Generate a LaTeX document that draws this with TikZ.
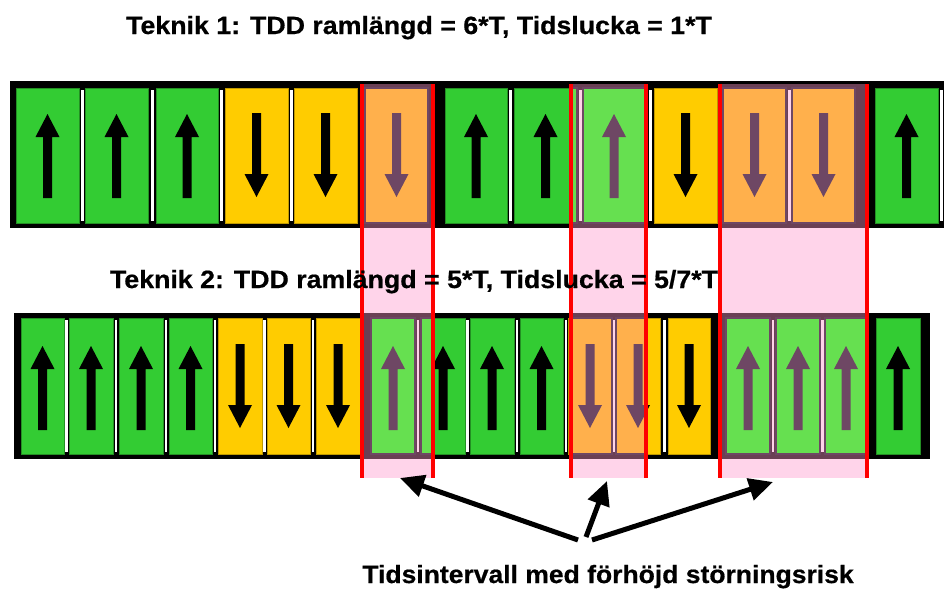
\documentclass[tikz,border=0pt]{standalone}
\usepackage{fontspec}
\setmainfont{Liberation Sans}[BoldFeatures={FakeBold=0.6}]
\usetikzlibrary{arrows.meta}
\definecolor{cgreen}{HTML}{33CC33}
\definecolor{cyellow}{HTML}{FFCC00}
\definecolor{hgreen}{HTML}{66E050}
\definecolor{hyellow}{HTML}{FFB04C}
\definecolor{harrow}{HTML}{6E4764}
\definecolor{cpink}{HTML}{FF99CC}
\definecolor{cred}{HTML}{FF0000}
\tikzset{
  ucell/.style={fill=cgreen, draw=cgreen!70!black, line width=0.6pt},
  dcell/.style={fill=cyellow, draw=cyellow!75!black, line width=0.6pt},
  arrfill/.style={fill=black},
  sepline/.style={fill=white},
  frameband/.style={fill=black},
  hiband/.style={fill=cpink, fill opacity=0.42},
  redline/.style={draw=cred, line width=4pt},
  callout/.style={line width=5pt, -{Triangle[length=24pt,width=22pt]}},
  lbl/.style={font=\bfseries\fontsize{25}{29}\selectfont, anchor=base, inner sep=0pt}
}
\newcommand\UpArr[2]{\fill[arrfill] (#1-4.5,#2+42) -- (#1-4.5,#2-19) -- (#1-12,#2-19) -- (#1,#2-42) -- (#1+12,#2-19) -- (#1+4.5,#2-19) -- (#1+4.5,#2+42) -- cycle;}
\newcommand\DnArr[2]{\fill[arrfill] (#1-4.5,#2-42) -- (#1-4.5,#2+19) -- (#1-12,#2+19) -- (#1,#2+42) -- (#1+12,#2+19) -- (#1+4.5,#2+19) -- (#1+4.5,#2-42) -- cycle;}
\newcommand\DrawCells{%
  \foreach \l/\r in {16/79,85/148,156/218,445/507,514/577,583/645,875/938}{
    \draw[ucell] (\l,88) rectangle (\r,223);
    \pgfmathsetmacro\c{(\l+\r)/2}
    \UpArr{\c}{156}
  }
  \foreach \l/\r in {225/288,294/357,365/428,654/717,723/786,792/855}{
    \draw[dcell] (\l,88) rectangle (\r,223);
    \pgfmathsetmacro\c{(\l+\r)/2}
    \DnArr{\c}{155}
  }
  \foreach \l/\r in {21/64,69/113,119/163,169/212,371/415,421/465,470/514,520/563,726/770,776/820,825/867,876/920}{
    \draw[ucell] (\l,318) rectangle (\r,454);
    \pgfmathsetmacro\c{(\l+\r)/2}
    \UpArr{\c}{388}
  }
  \foreach \l/\r in {218/262,267/310,316/360,568/612,616/660,668/710}{
    \draw[dcell] (\l,318) rectangle (\r,454);
    \pgfmathsetmacro\c{(\l+\r)/2}
    \DnArr{\c}{386}
  }%
}
\begin{document}
\begin{tikzpicture}[x=1pt,y=-1pt]
\useasboundingbox (0,0) rectangle (944,589);
% black frame bands
\fill[frameband] (10,81) rectangle (944,228);
\fill[frameband] (14,313) rectangle (930,459);
% separators
\foreach \s in {82,152,221.5,291,361,510.5,580,650,720,789,941}
  \fill[sepline] (\s-1.5,90) rectangle (\s+1.5,221);
\foreach \s in {66.5,116,166,215,264.5,313,418,467.5,517,566,614.5,664.5,773,822.5}
  \fill[sepline] (\s-1.3,320) rectangle (\s+1.3,452);
% cells
\DrawCells
% highlighted intervals
\foreach \a/\b in {362/433,571/646,720/867}{
  \fill[hiband] (\a,84) rectangle (\b,478);
}
\foreach \a/\b in {362/433,571/646,720/867}{
  \begin{scope}
    \clip (\a,84) rectangle (\b,478);
    \tikzset{
      ucell/.style={fill=hgreen, draw=harrow, line width=1.2pt},
      dcell/.style={fill=hyellow, draw=harrow, line width=1.2pt},
      arrfill/.style={fill=harrow}}
    \DrawCells
  \end{scope}
}
\foreach \a/\b in {362/433,571/646,720/867}{
  \draw[redline] (\a,84) -- (\a,478);
  \draw[redline] (\b,84) -- (\b,478);
}
% texts
\node[lbl] (title1) at (419,34) {\scalebox{1.07}[1]{Teknik 1: TDD ramlängd = 6*T, Tidslucka = 1*T}};
\node[lbl] (title2) at (414,288) {\scalebox{1.07}[1]{Teknik 2: TDD ramlängd = 5*T, Tidslucka = 5/7*T}};
\node[lbl] (risk) at (608,583) {\scalebox{1.06}[1]{Tidsintervall med förhöjd störningsrisk}};
% callout arrows
\coordinate (src1) at (578,540);
\coordinate (src2) at (586,537);
\coordinate (src3) at (592,540);
\coordinate (tip1) at (400,478);
\coordinate (tip2) at (607,481);
\coordinate (tip3) at (773,482);
\draw[callout] (src1) -- (tip1);
\draw[callout] (src2) -- (tip2);
\draw[callout] (src3) -- (tip3);
\end{tikzpicture}
\end{document}
